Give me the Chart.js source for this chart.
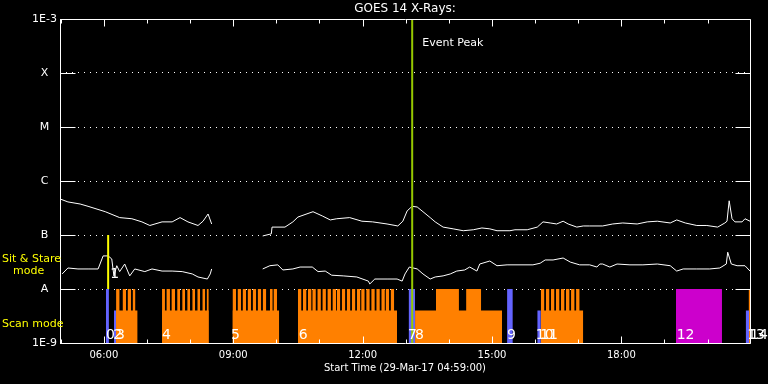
<!DOCTYPE html>
<html><head><meta charset="utf-8">
<script src="https://cdn.jsdelivr.net/npm/chart.js@4/dist/chart.umd.min.js"></script>
<style>html,body{margin:0;padding:0;background:#000;overflow:hidden}#c{display:block}</style>
</head><body><canvas id="c" width="768" height="384"></canvas>
<script>
// ---------- data ----------
const startTime = '04:59';
const endTime = '20:59';
const xTickLabels = ['06:00','09:00','12:00','15:00','18:00'];
const yTickValues = [1e-9,1e-8,1e-7,1e-6,1e-5,1e-4,1e-3];
const yTickLabels = ['1E-9','A','B','C','M','X','1E-3'];

// GOES long channel (1-8 A)
const longTimes = ['05:00','05:10','05:27','05:38','06:02','06:22','06:39','06:53','07:04','07:21','07:35','07:46','07:57','08:11','08:18','08:25','08:30','08:31',
 '09:41','09:53','09:54','10:12','10:23','10:30','10:51','11:04','11:15','11:24','11:42','11:59','12:14','12:34','12:49','12:56','13:02','13:09','13:16','13:24','13:34','13:41','13:52',
 '14:06','14:20','14:34','14:46','14:57','15:07','15:25','15:32','15:49','16:03','16:11','16:21','16:30','16:39','16:46','16:58','17:07','17:16','17:34','17:48',
 '18:02','18:22','18:36','18:50','19:08','19:17','19:29','19:45','19:59','20:14','20:24','20:27','20:30','20:34','20:38','20:48','20:52','20:59'];
const longFlux = [4.6e-7,4.1e-7,3.75e-7,3.4e-7,2.7e-7,2.1e-7,2.0e-7,1.75e-7,1.5e-7,1.75e-7,1.75e-7,2.1e-7,1.75e-7,1.5e-7,1.8e-7,2.45e-7,1.6e-7,null,
 9.6e-8,1.05e-7,1.4e-7,1.4e-7,1.75e-7,2.15e-7,2.7e-7,2.25e-7,1.9e-7,2.0e-7,2.1e-7,1.8e-7,1.75e-7,1.6e-7,1.47e-7,1.8e-7,2.8e-7,3.4e-7,3.3e-7,2.7e-7,2.1e-7,1.75e-7,1.4e-7,
 1.3e-7,1.2e-7,1.25e-7,1.35e-7,1.3e-7,1.2e-7,1.2e-7,1.25e-7,1.25e-7,1.4e-7,1.75e-7,1.67e-7,1.6e-7,1.8e-7,1.6e-7,1.4e-7,1.47e-7,1.47e-7,1.47e-7,1.6e-7,
 1.67e-7,1.6e-7,1.75e-7,1.8e-7,1.67e-7,1.9e-7,1.67e-7,1.5e-7,1.5e-7,1.4e-7,1.67e-7,1.8e-7,4.3e-7,2.0e-7,1.75e-7,1.75e-7,2.0e-7,1.8e-7];

// GOES short channel (0.5-4 A)
const shortTimes = ['05:02','05:10','05:24','05:38','05:52','05:59','06:06','06:11','06:14','06:18','06:22','06:29','06:36','06:43','06:57','07:07','07:21','07:35','07:49','08:03','08:11','08:24','08:28','08:30','08:31',
 '09:41','09:51','10:02','10:09','10:23','10:33','10:50','10:58','11:08','11:17','11:33','11:52','12:08','12:10','12:17','12:34','12:48','12:55','12:59','13:05','13:16','13:24','13:34','13:41','13:52',
 '14:02','14:11','14:22','14:29','14:39','14:43','14:57','15:07','15:21','15:39','15:57','16:07','16:14','16:25','16:39','16:49','17:02','17:16','17:26','17:30','17:34','17:44','17:54',
 '18:12','18:30','18:50','19:08','19:17','19:26','19:45','20:03','20:17','20:26','20:28','20:33','20:41','20:52','20:59'];
const shortFlux = [1.9e-8,2.45e-8,2.35e-8,2.35e-8,2.35e-8,4.1e-8,4.1e-8,3.6e-8,1.75e-8,2.7e-8,2.1e-8,2.9e-8,1.75e-8,2.35e-8,2.1e-8,2.35e-8,2.15e-8,2.15e-8,2.1e-8,1.9e-8,1.67e-8,1.53e-8,1.9e-8,2.35e-8,null,
 2.35e-8,2.7e-8,2.8e-8,2.25e-8,2.35e-8,2.55e-8,2.55e-8,2.1e-8,2.15e-8,1.8e-8,1.75e-8,1.67e-8,1.4e-8,1.24e-8,1.53e-8,1.53e-8,1.53e-8,1.4e-8,1.9e-8,2.55e-8,2.35e-8,1.9e-8,1.53e-8,1.67e-8,1.75e-8,
 1.9e-8,2.15e-8,2.25e-8,2.55e-8,2.15e-8,2.9e-8,3.3e-8,2.7e-8,2.8e-8,2.8e-8,2.8e-8,3.0e-8,3.45e-8,3.45e-8,3.75e-8,3.15e-8,2.8e-8,2.8e-8,2.55e-8,2.9e-8,2.9e-8,2.55e-8,2.9e-8,
 2.8e-8,2.8e-8,2.9e-8,2.7e-8,2.15e-8,2.35e-8,2.35e-8,2.35e-8,2.45e-8,2.9e-8,4.8e-8,2.9e-8,2.7e-8,2.7e-8,2.15e-8];

// observation coverage levels
const levelFull = 1e-8;
const levelLow = 4e-9;
const axisMin = 1e-9, axisMax = 1e-3;

// [start, end] intervals
const blueFull = [['06:03','06:07'],['13:04','13:13'],['15:21','15:29']];
const blueLow = [['06:14','06:17'],['16:03','16:08'],['20:53','20:58']];
const orangeLow = [['06:17','06:47'],['07:21','08:26'],['08:59','10:04'],['10:30','12:48'],['13:13','15:14'],['16:08','17:07']];
const orangeFull = [
 ['06:17','06:22'],['06:26','06:31'],['06:33','06:38'],['06:40','06:44'],
 ['07:21','07:25'],['07:27','07:32'],['07:34','07:39'],['07:42','07:46'],['07:49','07:53'],['07:56','08:00'],['08:03','08:07'],['08:10','08:14'],['08:17','08:21'],['08:23','08:26'],
 ['08:59','09:04'],['09:06','09:11'],['09:13','09:18'],['09:20','09:25'],['09:27','09:32'],['09:34','09:39'],['09:41','09:46'],['09:51','09:55'],['09:56','10:01'],
 ['10:30','10:35'],['10:37','10:42'],['10:44','10:49'],['10:50','10:55'],['10:57','11:02'],['11:04','11:09'],['11:11','11:16'],['11:18','11:23'],['11:24','11:29'],['11:31','11:36'],
 ['11:38','11:43'],['11:45','11:50'],['11:52','11:57'],['11:58','12:03'],['12:05','12:10'],['12:12','12:17'],['12:19','12:24'],['12:26','12:31'],['12:32','12:37'],['12:39','12:44'],
 ['13:42','14:14'],['14:24','14:45'],
 ['16:08','16:13'],['16:15','16:20'],['16:22','16:27'],['16:29','16:34'],['16:36','16:41'],['16:43','16:48'],['16:50','16:55'],['16:57','17:02'],
 ['20:57','20:59']];
const magentaFull = [['19:16','20:20']];

// sit & stare marker and event peak
const sitStareTime = '06:06';
const sitStareRange = [1e-8, 1e-7];
const eventPeakTime = '13:09';

// observation number labels
const obsLabels = ['0','1','2','3','4','5','6','7','8','9','10','11','12','13','14'];
const obsTimes = ['06:03','06:09','06:13','06:17','07:21','08:57','10:31','13:03','13:13','15:21','16:01','16:07','19:17','20:55','20:59'];
const obsFlux = [1.21e-9,1.63e-8,1.21e-9,1.21e-9,1.21e-9,1.21e-9,1.21e-9,1.21e-9,1.21e-9,1.21e-9,1.21e-9,1.21e-9,1.21e-9,1.21e-9,1.21e-9];

// ---------- build ----------
const toH = s => { const [h, m] = s.split(':').map(Number); return h + m / 60; };
const series = (times, vals) => times.map((t, i) => ({x: toH(t), y: vals[i]}));
const rects = (list, top) => {
  const pts = [];
  list.forEach(([a, b]) => { pts.push({x: toH(a), y: top}, {x: toH(b), y: top}, {x: toH(b), y: null}); });
  return pts;
};
const rectSet = (list, top, color) => ({
  data: rects(list, top), borderColor: 'transparent', borderWidth: 0, backgroundColor: color,
  fill: {value: axisMin}, pointRadius: 0, spanGaps: false, tension: 0
});
const lineSet = (data, color, w) => ({
  data, borderColor: color, borderWidth: w, pointRadius: 0, fill: false, spanGaps: false, tension: 0
});

const FONT = '"DejaVu Sans", sans-serif';
Chart.defaults.font.family = FONT;

const decor = {
  id: 'decor',
  afterDraw(chart) {
    const {ctx, chartArea: a, scales: {x, y}} = chart;
    ctx.save();
    ctx.setLineDash([]);
    ctx.strokeStyle = '#fff';
    ctx.lineWidth = 1;
    const L = Math.round(a.left) + 0.5, R = Math.round(a.right) + 0.5;
    const T = Math.round(a.top) + 0.5, B = Math.round(a.bottom) + 0.5;
    ctx.beginPath();
    ctx.rect(L, T, R - L, B - T);
    yTickValues.forEach(v => {
      const p = Math.round(y.getPixelForValue(v)) + 0.5;
      ctx.moveTo(L, p); ctx.lineTo(L + 15, p);
      ctx.moveTo(R, p); ctx.lineTo(R - 15, p);
    });
    for (let h = Math.ceil(x.min); h <= Math.floor(x.max); h++) {
      const p = Math.round(x.getPixelForValue(h)) + 0.5;
      const len = h % 3 === 0 ? 7 : 4;
      ctx.moveTo(p, T); ctx.lineTo(p, T + len);
      ctx.moveTo(p, B); ctx.lineTo(p, B - len);
    }
    ctx.stroke();

    ctx.fillStyle = '#fff';
    ctx.textAlign = 'left';
    ctx.textBaseline = 'alphabetic';
    ctx.font = '14px ' + FONT;
    obsLabels.forEach((t, i) => {
      ctx.fillText(t, x.getPixelForValue(toH(obsTimes[i])), y.getPixelForValue(obsFlux[i]));
    });
    ctx.font = '11px ' + FONT;
    ctx.textBaseline = 'middle';
    ctx.fillText('Event Peak', x.getPixelForValue(toH(eventPeakTime)) + 10, a.top + 24);

    ctx.fillStyle = '#ffff00';
    ctx.fillText('Sit & Stare', 2, 259);
    ctx.fillText('mode', 13, 271);
    ctx.fillText('Scan mode', 2, 324);
    ctx.restore();
  }
};

new Chart(document.getElementById('c'), {
  type: 'line',
  data: {
    datasets: [
      lineSet([{x: toH(eventPeakTime), y: axisMin}, {x: toH(eventPeakTime), y: axisMax}], '#96c800', 2),
      lineSet([{x: toH(sitStareTime), y: sitStareRange[0]}, {x: toH(sitStareTime), y: sitStareRange[1]}], '#ffff00', 2),
      lineSet(series(longTimes, longFlux), '#ffffff', 1),
      lineSet(series(shortTimes, shortFlux), '#ffffff', 1),
      rectSet(blueFull, levelFull, '#6464ff'),
      rectSet(blueLow, levelLow, '#6464ff'),
      rectSet(magentaFull, levelFull, '#cc00cc'),
      rectSet(orangeFull, levelFull, '#ff8000'),
      rectSet(orangeLow, levelLow, '#ff8000')
    ]
  },
  options: {
    responsive: false,
    animation: false,
    devicePixelRatio: 1,
    layout: {padding: {left: 0, right: 18, top: 0, bottom: 0}},
    plugins: {
      legend: {display: false},
      tooltip: {enabled: false},
      title: {
        display: true, text: 'GOES 14 X-Rays:', color: '#fff', fullSize: false,
        font: {family: FONT, size: 12, weight: 'normal'}, padding: {top: 2, bottom: 2.6}
      }
    },
    scales: {
      x: {
        type: 'linear', min: toH(startTime), max: toH(endTime),
        grid: {display: false, drawTicks: false},
        border: {display: false},
        afterBuildTicks: s => { s.ticks = xTickLabels.map(t => ({value: toH(t)})); },
        ticks: {color: '#fff', font: {size: 10}, padding: 6, maxRotation: 0, autoSkip: false,
          callback: (v, i) => xTickLabels[i]},
        title: {display: true, text: 'Start Time (29-Mar-17 04:59:00)', color: '#fff', font: {size: 10}, padding: {top: 0, bottom: 10}},
        afterFit: s => { s.height = 41; }
      },
      y: {
        type: 'logarithmic', min: axisMin, max: axisMax,
        grid: {color: '#ffffff', drawTicks: false, lineWidth: 1},
        border: {display: false, dash: [1, 5]},
        afterBuildTicks: s => { s.ticks = yTickValues.map(v => ({value: v})); },
        ticks: {color: '#fff', font: {size: 11}, padding: 3, crossAlign: 'center', autoSkip: false,
          callback: (v, i) => yTickLabels[i]},
        afterFit: s => { s.width = 60; }
      }
    }
  },
  plugins: [decor]
});
</script>
</body></html>
